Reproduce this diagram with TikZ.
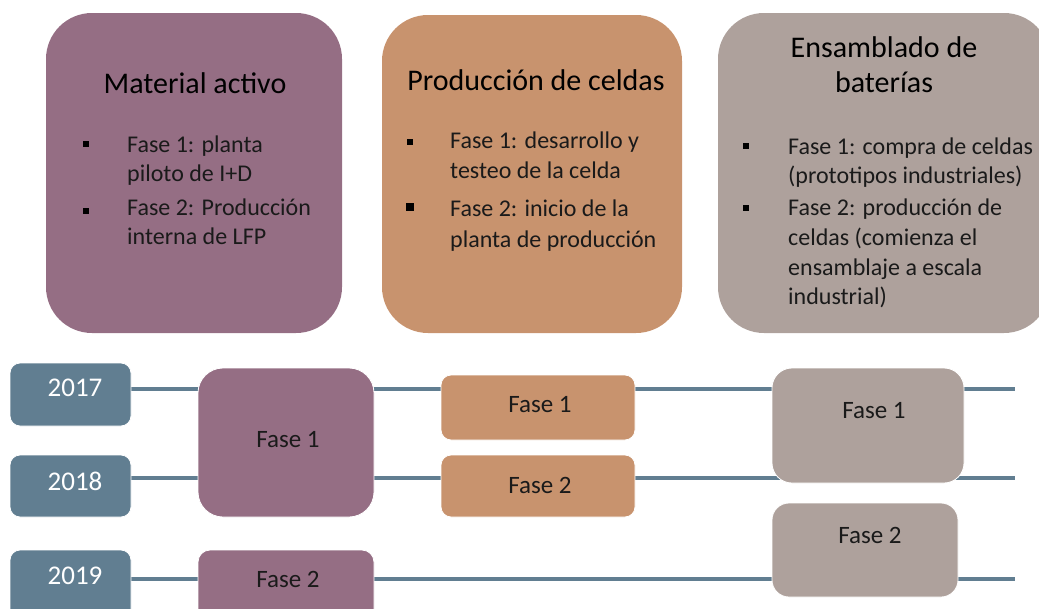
\documentclass[tikz,border=0pt]{standalone}
\usepackage{fontspec}
\setmainfont{Carlito}
\usetikzlibrary{backgrounds}
\definecolor{cpurple}{HTML}{956E84}
\definecolor{corange}{HTML}{C8936E}
\definecolor{cgray}{HTML}{AEA19C}
\definecolor{cslate}{HTML}{617E91}
\definecolor{ctext}{HTML}{1A1A1A}
\begin{document}
\begin{tikzpicture}[x=1pt,y=-1pt,
  bigbox/.style={rounded corners=46pt, inner sep=0pt, draw=none},
  ttl/.style={font=\fontsize{30}{36}\selectfont, text=black, inner sep=0pt, anchor=base},
  body/.style={font=\fontsize{24}{29}\selectfont, text=ctext, inner sep=0pt, anchor=base west},
  sq/.style={fill=black, inner sep=0pt, minimum size=6pt},
  yearbox/.style={fill=cslate, rounded corners=10pt, inner sep=0pt, draw=white, line width=0.8pt},
  yeartext/.style={text=white, font=\fontsize{27}{32}\selectfont, inner sep=0pt},
  phase/.style={inner sep=0pt, draw=white, line width=0.8pt},
  phasetext/.style={font=\fontsize{25}{30}\selectfont, text=ctext, inner sep=0pt},
  track/.style={draw=cslate, line width=4pt}
]
\clip (0,0) rectangle (1039,608);
% top boxes
\node[bigbox, fill=cpurple, minimum width=296pt, minimum height=320pt] (boxA) at (194,173) {};
\node[bigbox, fill=corange, minimum width=300pt, minimum height=318pt] (boxB) at (532,174) {};
\node[bigbox, fill=cgray, minimum width=332pt, minimum height=320pt] (boxC) at (884,173) {};
% box A text
\node[ttl] (tA) at (195,93) {Material activo};
\node[sq] (bA1) at (86,144) {};
\node[sq] (bA2) at (86,211) {};
\node[body] (A1) at (127,152) {Fase 1: planta};
\node[body] (A2) at (127,181) {piloto de I+D};
\node[body] (A3) at (127,215) {Fase 2: Producción};
\node[body] (A4) at (127,244) {interna de LFP};
% box B text
\node[ttl] (tB) at (536,90) {Producción de celdas};
\node[sq] (bB1) at (410,142) {};
\node[sq, minimum size=8pt] (bB2) at (410,207) {};
\node[body] (B1) at (450,148) {Fase 1: desarrollo y};
\node[body] (B2) at (450,178) {testeo de la celda};
\node[body] (B3) at (450,216) {Fase 2: inicio de la};
\node[body] (B4) at (450,247) {planta de producción};
% box C text
\node[ttl] (tC1) at (884,57) {Ensamblado de};
\node[ttl] (tC2) at (884,92) {baterías};
\node[sq] (bC1) at (746,146) {};
\node[sq] (bC2) at (746,208) {};
\node[body] (C1) at (788,154) {Fase 1: compra de celdas};
\node[body] (C2) at (788,183) {(prototipos industriales)};
\node[body] (C3) at (788,215) {Fase 2: producción de};
\node[body] (C4) at (788,245) {celdas (comienza el};
\node[body] (C5) at (788,275) {ensamblaje a escala};
\node[body] (C6) at (788,304) {industrial)};
% year boxes
\node[yearbox, minimum width=121pt, minimum height=63pt] (y17) at (70.5,394.5) {};
\node[yearbox, minimum width=121pt, minimum height=62pt] (y18) at (70.5,486) {};
\node[yearbox, minimum width=121pt, minimum height=70pt] (y19) at (70.5,585) {};
\node[yeartext] (t17) at (75,388) {2017};
\node[yeartext] (t18) at (75,481) {2018};
\node[yeartext] (t19) at (75,576) {2019};
% phase boxes
\node[phase, fill=cpurple, rounded corners=25pt, minimum width=176pt, minimum height=149pt] (pA1) at (286,442.5) {};
\node[phase, fill=cpurple, rounded corners=12pt, minimum width=176pt, minimum height=75pt] (pA2) at (286,587.5) {};
\node[phase, fill=corange, rounded corners=10pt, minimum width=194pt, minimum height=65pt] (pB1) at (538,407.5) {};
\node[phase, fill=corange, rounded corners=10pt, minimum width=194pt, minimum height=62pt] (pB2) at (538,486) {};
\node[phase, fill=cgray, rounded corners=20pt, minimum width=192pt, minimum height=115pt] (pC1) at (868,425.5) {};
\node[phase, fill=cgray, rounded corners=17pt, minimum width=186pt, minimum height=94pt] (pC2) at (865,550) {};
\node[phasetext] (xA1) at (288,440) {Fase 1};
\node[phasetext] (xA2) at (288,579) {Fase 2};
\node[phasetext] (xB1) at (540,405) {Fase 1};
\node[phasetext] (xB2) at (540,485) {Fase 2};
\node[phasetext] (xC1) at (874,411) {Fase 1};
\node[phasetext] (xC2) at (870,535) {Fase 2};
% track ends
\coordinate (e17) at (1015,389);
\coordinate (e18) at (1015,478);
\coordinate (e19) at (1015,579);
\begin{pgfonlayer}{background}
\draw[track] (y17.east |- e17) -- (e17);
\draw[track] (y18.east |- e18) -- (e18);
\draw[track] (y19.east |- e19) -- (e19);
\end{pgfonlayer}
\end{tikzpicture}
\end{document}
